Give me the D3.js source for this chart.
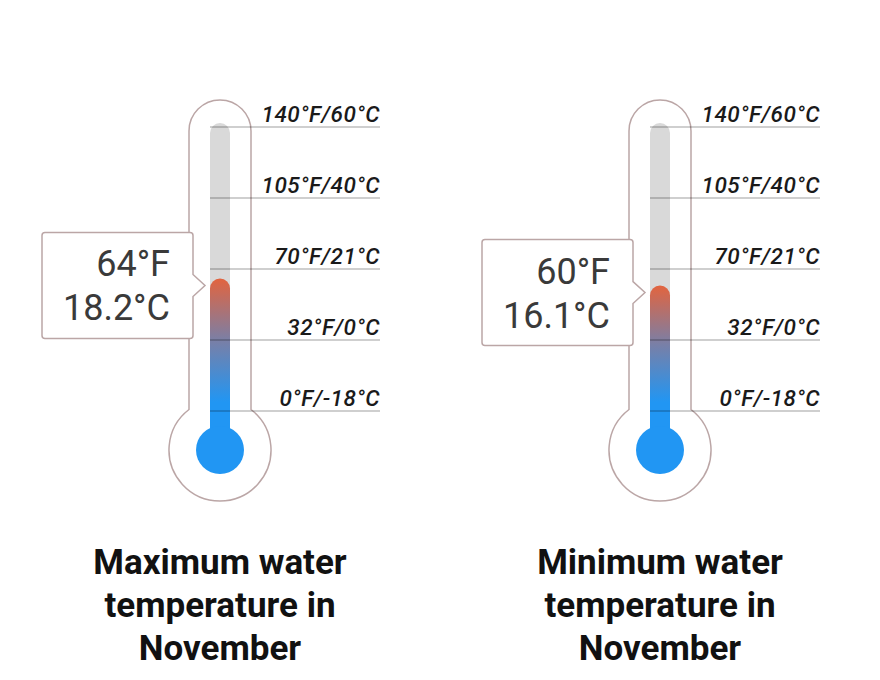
<!DOCTYPE html>
<html><head><meta charset="utf-8">
<script src="https://cdn.jsdelivr.net/npm/d3@7"></script>
<style>body{margin:0;background:#fff}svg{display:block}</style>
</head><body>
<script>
const tickLabels = ["140°F/60°C","105°F/40°C","70°F/21°C","32°F/0°C","0°F/-18°C"];
const tickCelsius = [60,40,21,0,-18];
const titles = [["Maximum water","temperature in","November"],["Minimum water","temperature in","November"]];
const valuesF = [64,60];
const valuesC = [18.2,16.1];

const W=880,H=680;
const svg=d3.select("body").append("svg").attr("width",W).attr("height",H);
const y=d3.scaleLinear().domain([-18,0,21,40,60]).range([411,340,269,198,127]);
const centers=[220,660];
const defs=svg.append("defs");

centers.forEach((cx,i)=>{
  const g=svg.append("g");
  const level=y(valuesC[i]);
  const grad=defs.append("linearGradient").attr("id","merc"+i).attr("gradientUnits","userSpaceOnUse")
    .attr("x1",0).attr("x2",0).attr("y1",level).attr("y2",402);
  grad.append("stop").attr("offset",0).attr("stop-color","#e2643f");
  grad.append("stop").attr("offset",0.5).attr("stop-color","#7a7fa6");
  grad.append("stop").attr("offset",1).attr("stop-color","#2196f3");
  // outline
  const tw=31, tr=31, topY=100, bcy=450, br=51;
  const jy=bcy-Math.sqrt(br*br-tw*tw);
  const p=d3.path();
  p.moveTo(cx-tw,jy);
  p.lineTo(cx-tw,topY+tr);
  p.arc(cx,topY+tr,tr,Math.PI,0);
  p.lineTo(cx+tw,jy);
  const a=Math.atan2(jy-bcy,tw);
  p.arc(cx,bcy,br,a,Math.PI-a);
  p.closePath();
  g.append("path").attr("d",p.toString()).attr("fill","#fff").attr("stroke","#bba6a6").attr("stroke-width",1.5);
  // track
  const iw=10, itop=123;
  g.append("path").attr("d",`M${cx-iw},${bcy} V${itop+iw} A${iw},${iw} 0 0 1 ${cx+iw},${itop+iw} V${bcy} Z`).attr("fill","#d9d9d9");
  // mercury
  g.append("path").attr("d",`M${cx-iw},${bcy} V${level+iw} A${iw},${iw} 0 0 1 ${cx+iw},${level+iw} V${bcy} Z`).attr("fill",`url(#merc${i})`);
  g.append("circle").attr("cx",cx).attr("cy",bcy).attr("r",24).attr("fill","#2196f3");
  // ticks
  tickCelsius.forEach((c,k)=>{
    const ty=y(c);
    g.append("line").attr("x1",cx-10).attr("x2",cx+160).attr("y1",ty).attr("y2",ty)
      .attr("stroke","#000").attr("stroke-opacity",0.25).attr("stroke-width",1.3);
    g.append("text").attr("x",cx+160).attr("y",ty-5).attr("text-anchor","end")
      .attr("font-family","Roboto").attr("font-style","italic").attr("font-weight",500).attr("font-size",22.5)
      .attr("letter-spacing",0.5).attr("fill","#1a1a1a").text(tickLabels[k]);
  });
  // tooltip
  const py=level+7;
  const bx1=cx-178,bx2=cx-27,by1=py-53,by2=py+53,rr=3;
  const tp=`M${bx1+rr},${by1} H${bx2-rr} Q${bx2},${by1} ${bx2},${by1+rr} V${py-11} L${cx-15},${py} L${bx2},${py+11} V${by2-rr} Q${bx2},${by2} ${bx2-rr},${by2} H${bx1+rr} Q${bx1},${by2} ${bx1},${by2-rr} V${by1+rr} Q${bx1},${by1} ${bx1+rr},${by1} Z`;
  g.append("path").attr("d",tp).attr("fill","#fff").attr("stroke","#bba6a6").attr("stroke-width",1.5);
  g.append("text").attr("x",cx-50).attr("y",py-9).attr("text-anchor","end")
    .attr("font-family","Roboto").attr("font-size",36).attr("fill","#3a3a3a").text(valuesF[i]+"°F");
  g.append("text").attr("x",cx-50).attr("y",py+35).attr("text-anchor","end")
    .attr("font-family","Roboto").attr("font-size",36).attr("fill","#3a3a3a").text(valuesC[i]+"°C");
  // title
  titles[i].forEach((t,k)=>{
    g.append("text").attr("x",cx).attr("y",574+k*43).attr("text-anchor","middle")
      .attr("font-family","Roboto").attr("font-weight","bold").attr("font-size",35)
      .attr("fill","#111").text(t);
  });
});
</script>
</body></html>
